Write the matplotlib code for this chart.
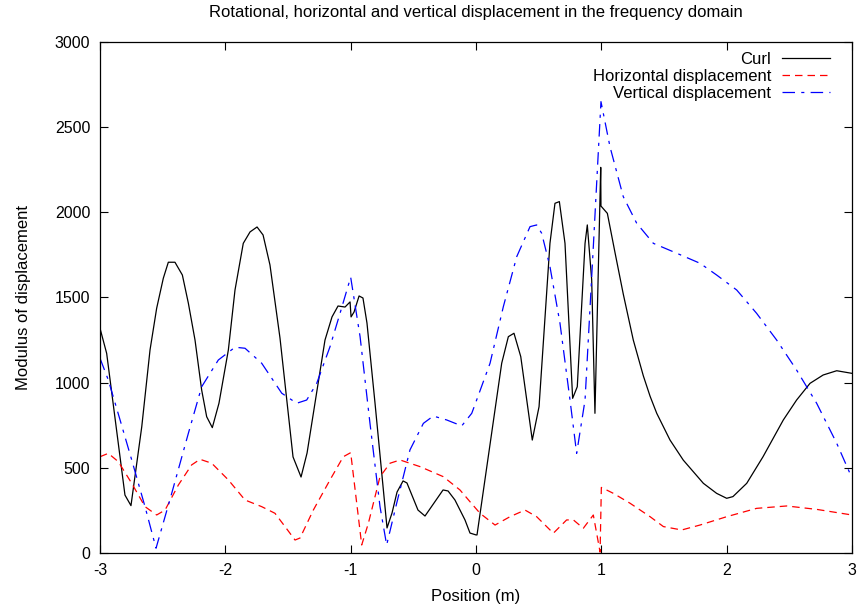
import matplotlib
matplotlib.use("Agg")
import matplotlib.pyplot as plt

# Curl (black, solid)
curl_x = [-3.000, -2.947, -2.801, -2.753, -2.667, -2.601, -2.548, -2.495, -2.455, -2.402,
          -2.343, -2.295, -2.242, -2.189, -2.149, -2.104, -2.051, -1.976, -1.923, -1.857,
          -1.803, -1.747, -1.699, -1.644, -1.564, -1.460, -1.396, -1.348, -1.205, -1.149,
          -1.101, -1.045, -1.005, -0.997, -0.973, -0.933, -0.902, -0.870, -0.806, -0.710,
          -0.670, -0.630, -0.582, -0.551, -0.463, -0.407, -0.263, -0.223, -0.168, -0.088,
          -0.048, 0.000, 0.008, 0.205, 0.258, 0.303, 0.357, 0.449, 0.503, 0.590,
          0.630, 0.665, 0.710, 0.771, 0.808, 0.870, 0.888, 0.923, 0.949, 0.995,
          0.997, 1.048, 1.110, 1.175, 1.255, 1.335, 1.389, 1.442, 1.548, 1.654, 1.814,
          1.920, 2.000, 2.050, 2.160, 2.290, 2.452, 2.558, 2.665, 2.770, 2.878, 2.997]
curl_y = [1319, 1172, 340, 278, 741, 1192, 1437, 1613, 1707, 1707,
          1632, 1466, 1250, 957, 800, 736, 879, 1192, 1544, 1818,
          1885, 1914, 1867, 1691, 1262, 564, 446, 587, 1250, 1386,
          1450, 1444, 1474, 1386, 1415, 1509, 1497, 1350, 881, 147,
          235, 358, 423, 411, 252, 217, 370, 364, 311, 194,
          117, 106, 106, 1114, 1270, 1290, 1153, 663, 859, 1818,
          2053, 2063, 1818, 908, 976, 1818, 1926, 1603, 820, 2264,
          2037, 1994, 1760, 1520, 1250, 1040, 920, 820, 663, 545, 409,
          350, 321, 331, 409, 565, 781, 898, 996, 1045, 1070, 1055]

# Horizontal displacement (red, dashed)
horiz_x = [-3.000, -2.934, -2.854, -2.747, -2.641, -2.548, -2.481, -2.375, -2.269, -2.202,
           -2.109, -1.976, -1.843, -1.710, -1.604, -1.524, -1.444, -1.404, -1.298, -1.165,
           -1.059, -1.000, -0.912, -0.859, -0.766, -0.686, -0.606, -0.447, -0.261, -0.128,
           -0.048, 0.032, 0.152, 0.271, 0.391, 0.484, 0.617, 0.723, 0.777, 0.856,
           0.936, 0.990, 1.000, 1.096, 1.229, 1.389, 1.495, 1.641, 1.787, 2.000,
           2.239, 2.479, 2.718, 3.000]
horiz_y = [565, 585, 536, 409, 272, 223, 252, 399, 517, 550,
           527, 429, 311, 272, 233, 155, 76, 88, 252, 429,
           565, 589, 47, 174, 448, 527, 546, 507, 448, 370,
           301, 233, 164, 213, 252, 213, 116, 194, 194, 145,
           223, 5, 385, 350, 292, 213, 155, 135, 164, 213,
           262, 276, 256, 223]

# Vertical displacement (blue, dash-dot)
vert_x = [-3.000, -2.934, -2.840, -2.747, -2.641, -2.553, -2.428, -2.295, -2.189, -2.056,
          -1.923, -1.843, -1.710, -1.550, -1.431, -1.351, -1.271, -1.165, -1.085, -1.000,
          -0.925, -0.846, -0.766, -0.713, -0.633, -0.527, -0.420, -0.341, -0.234, -0.114,
          -0.034, 0.005, 0.112, 0.218, 0.325, 0.431, 0.484, 0.524, 0.590, 0.670,
          0.750, 0.803, 0.870, 0.936, 0.997, 1.069, 1.175, 1.282, 1.415, 1.601,
          1.787, 1.920, 2.080, 2.239, 2.399, 2.558, 2.718, 2.878, 3.000]
vert_y = [1143, 1016, 781, 546, 272, 28, 350, 703, 976, 1133,
          1208, 1202, 1114, 938, 879, 898, 996, 1211, 1407, 1619,
          1270, 761, 272, 47, 292, 605, 761, 804, 781, 746,
          820, 898, 1114, 1446, 1740, 1916, 1926, 1877, 1681, 1349,
          898, 585, 898, 1798, 2650, 2385, 2092, 1936, 1818, 1760,
          1701, 1632, 1544, 1407, 1250, 1074, 879, 644, 440]

plt.rcParams['font.family'] = ['Liberation Sans', 'DejaVu Sans']
plt.rcParams['font.size'] = 12
plt.rcParams['axes.unicode_minus'] = False

fig = plt.figure(figsize=(8.6, 6.08), dpi=100)
ax = fig.add_axes([0.1163, 0.0905, 0.8744, 0.8404])

ax.plot(curl_x, curl_y, color='black', lw=0.9, label='Curl')
ax.plot(horiz_x, horiz_y, color='red', lw=0.9, dashes=(6, 4), label='Horizontal displacement')
ax.plot(vert_x, vert_y, color='blue', lw=0.9, dashes=(10, 5, 2.5, 5), label='Vertical displacement')

ax.set_xlim(-3, 3)
ax.set_ylim(0, 3000)
ax.set_xticks(range(-3, 4))
ax.set_yticks(range(0, 3001, 500))
ax.tick_params(direction='in', length=6, width=0.8, top=True, right=True, pad=7,
               labelsize=11.5)
for s in ax.spines.values():
    s.set_linewidth(0.9)

ax.set_title('Rotational, horizontal and vertical displacement in the frequency domain',
             fontsize=12, pad=18)
ax.set_xlabel('Position (m)', labelpad=8)
ax.set_ylabel('Modulus of displacement', labelpad=17)

ax.legend(loc='upper right', bbox_to_anchor=(0.971, 0.98), frameon=False,
          markerfirst=False, handlelength=2.9, handletextpad=0.65,
          labelspacing=0.1, borderaxespad=0, borderpad=0, fontsize=12)

fig.savefig('out.png', dpi=100)
